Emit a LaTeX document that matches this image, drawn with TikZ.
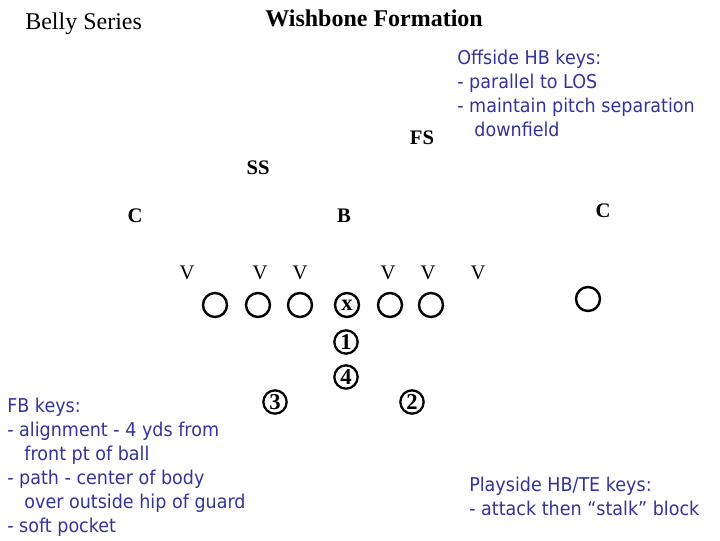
\documentclass[tikz,border=0pt]{standalone}
\usepackage{fontspec}
\setmainfont{Liberation Serif}
\newfontfamily\tah[FakeStretch=0.92]{DejaVu Sans}
\definecolor{navy}{RGB}{51,51,153}
\tikzset{
  keys/.style={text=navy, font=\tah\fontsize{14.3}{18}\selectfont, align=left, anchor=north west, inner sep=0pt},
  title/.style={font=\fontsize{18}{20}\selectfont, anchor=base west, inner sep=0pt},
  lab/.style={font=\bfseries\fontsize{15.5}{16}\selectfont, anchor=base, inner sep=0pt},
  vv/.style={font=\fontsize{15.5}{16}\selectfont, anchor=base, inner sep=0pt},
  man/.style={circle, draw, line width=1.8pt, minimum size=18pt, inner sep=0pt},
  num/.style={circle, draw, line width=1.7pt, minimum size=17.5pt, inner sep=0pt, font=\bfseries\fontsize{17}{17}\selectfont},
}
\begin{document}
\begin{tikzpicture}[x=0.75pt, y=-0.75pt]
\useasboundingbox (0,0) rectangle (720,540);
% titles
\node[title] (belly) at (25,29) {Belly Series};
\node[title, font=\bfseries\fontsize{18}{20}\selectfont] (wish) at (265,26) {Wishbone Formation};
% key blocks
\node[keys] (off) at (457,50) {Offside HB keys:\\- parallel to LOS\\- maintain pitch separation\\\hspace*{0.9em}downfield};
\node[keys] (fb) at (7,398) {FB keys:\\- alignment - 4 yds from\\\hspace*{0.9em}front pt of ball\\- path - center of body\\\hspace*{0.9em}over outside hip of guard\\- soft pocket};
\node[keys] (play) at (469,477) {Playside HB/TE keys:\\- attack then \textquotedblleft stalk\textquotedblright{} block};
% defenders
\node[lab] (fs) at (422,144) {FS};
\node[lab] (ss) at (258,174) {SS};
\node[lab] (cl) at (135,222) {C};
\node[lab] (b) at (344,222) {B};
\node[lab] (cr) at (603,217) {C};
\node[vv] (v1) at (187,279) {V};
\node[vv] (v2) at (260,279) {V};
\node[vv] (v3) at (300,279) {V};
\node[vv] (v4) at (388,279) {V};
\node[vv] (v5) at (428,279) {V};
\node[vv] (v6) at (478,279) {V};
% offense
\node[man] (o1) at (215,305) {};
\node[man] (o2) at (258,305) {};
\node[man] (o3) at (300,305) {};
\node[man, font=\bfseries\fontsize{17}{17}\selectfont] (ctr) at (347,305) {\raisebox{-3pt}{x}};
\node[man] (o5) at (390,305) {};
\node[man] (o6) at (431,305) {};
\node[man] (te) at (588,299) {};
\node[num] (n1) at (346,342) {1};
\node[num] (n4) at (346,377) {4};
\node[num] (n3) at (275,402) {3};
\node[num] (n2) at (412,402) {2};
\end{tikzpicture}
\end{document}
